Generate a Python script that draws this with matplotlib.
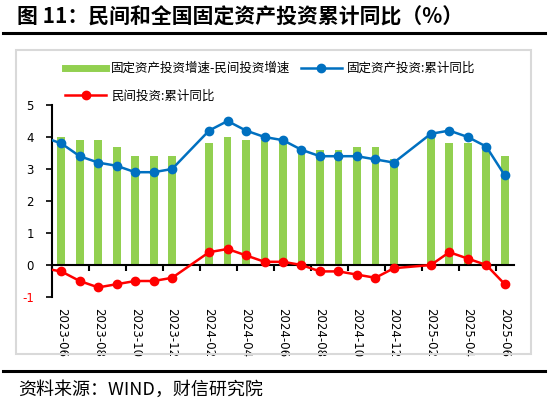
import matplotlib
matplotlib.use('Agg')
import matplotlib.pyplot as plt
from matplotlib.lines import Line2D
from matplotlib.patches import Rectangle

plt.rcParams['font.family'] = ['Noto Sans CJK SC', 'DejaVu Sans']
plt.rcParams['axes.unicode_minus'] = False

# data (monthly cumulative YoY, %, Jan not published)
months = ['2023-05', '2023-06', '2023-07', '2023-08', '2023-09', '2023-10', '2023-11', '2023-12',
          '2024-02', '2024-03', '2024-04', '2024-05', '2024-06', '2024-07', '2024-08', '2024-09',
          '2024-10', '2024-11', '2024-12',
          '2025-02', '2025-03', '2025-04', '2025-05', '2025-06']
fai_yoy = [4.0, 3.8, 3.4, 3.2, 3.1, 2.9, 2.9, 3.0,
           4.2, 4.5, 4.2, 4.0, 3.9, 3.6, 3.4, 3.4, 3.4, 3.3, 3.2,
           4.1, 4.2, 4.0, 3.7, 2.8]
private_yoy = [-0.1, -0.2, -0.5, -0.7, -0.6, -0.5, -0.5, -0.4,
               0.4, 0.5, 0.3, 0.1, 0.1, 0.0, -0.2, -0.2, -0.3, -0.4, -0.1,
               0.0, 0.4, 0.2, 0.0, -0.6]
gap = [4.1, 4.0, 3.9, 3.9, 3.7, 3.4, 3.4, 3.4,
       3.8, 4.0, 3.9, 3.9, 3.8, 3.6, 3.6, 3.6, 3.7, 3.7, 3.3,
       4.1, 3.8, 3.8, 3.7, 3.4]
tick_months = ['2023-06', '2023-08', '2023-10', '2023-12', '2024-02', '2024-04', '2024-06',
               '2024-08', '2024-10', '2024-12', '2025-02', '2025-04', '2025-06']

labels = ['固定资产投资增速-民间投资增速', '固定资产投资:累计同比', '民间投资:累计同比']
green, blue, red = '#92D050', '#0070C0', '#FF0000'


def month_pos(m):
    y, mo = m.split('-')
    return (int(y) - 2023) * 12 + int(mo) - 6


x = [month_pos(m) for m in months]

fig = plt.figure(figsize=(5.5, 4.07), dpi=100)

# title and rules
fig.text(17 / 550, 1 - 17 / 407, '图 11：民间和全国固定资产投资累计同比（%）', fontsize=15,
         fontweight='bold', va='center', ha='left')
fig.add_artist(Line2D([3 / 550, 545 / 550], [1 - 33 / 407] * 2, color='black', lw=2.2))
fig.add_artist(Line2D([3 / 550, 545 / 550], [1 - 371 / 407] * 2, color='black', lw=2.2))
fig.add_artist(Rectangle((16 / 550, 1 - 354 / 407), 515 / 550, 304 / 407, fill=False,
                         edgecolor='#d9d9d9', lw=1.5))
fig.text(18 / 550, 1 - 390 / 407, '资料来源：WIND，财信研究院', fontsize=13, va='center',
         ha='left', style='italic')

ax = fig.add_axes([52 / 550, 1 - 297 / 407, 462 / 550, 192 / 407])
ax.bar(x, gap, width=0.42, color=green, zorder=1)
ax.plot(x, fai_yoy, color=blue, lw=1.8, marker='o', markersize=6, zorder=3)
ax.plot(x, private_yoy, color=red, lw=1.8, marker='o', markersize=6, zorder=3)

ax.set_xlim(-0.5, 24.5)
ax.set_ylim(-1, 5)
ax.set_yticks(range(-1, 6))
ax.set_yticklabels([str(v) for v in range(-1, 6)], family='DejaVu Sans', fontsize=8.5)
ax.get_yticklabels()[0].set_color(red)
ax.tick_params(axis='y', direction='out', length=4, width=1.2, pad=9)

ax.spines['top'].set_visible(False)
ax.spines['right'].set_visible(False)
ax.spines['left'].set_linewidth(1.5)
ax.spines['bottom'].set_position(('data', 0))
ax.spines['bottom'].set_linewidth(1.5)
ax.set_xticks([i + 0.5 for i in range(-1, 25, 2)])
ax.set_xticklabels([])
ax.tick_params(axis='x', direction='out', length=4, width=1.5)

sec = ax.secondary_xaxis('bottom')
sec.set_xticks([month_pos(m) for m in tick_months])
sec.set_xticklabels(tick_months, rotation=270, family='DejaVu Sans', fontsize=8.5)
sec.tick_params(length=0, pad=8)
sec.spines['bottom'].set_visible(False)

handles = [Line2D([], [], color=green, lw=5),
           Line2D([], [], color=red, lw=1.8, marker='o', markersize=6),
           Line2D([], [], color=blue, lw=1.8, marker='o', markersize=6)]
fig.legend(handles, [labels[0], labels[2], labels[1]], ncol=2, frameon=False, fontsize=9,
           loc='upper left', bbox_to_anchor=(60 / 550, 1 - 57 / 407), handlelength=3.3,
           handletextpad=0.4, columnspacing=0.8, labelspacing=1.15, borderaxespad=0)

fig.savefig('out.png', dpi=100)
